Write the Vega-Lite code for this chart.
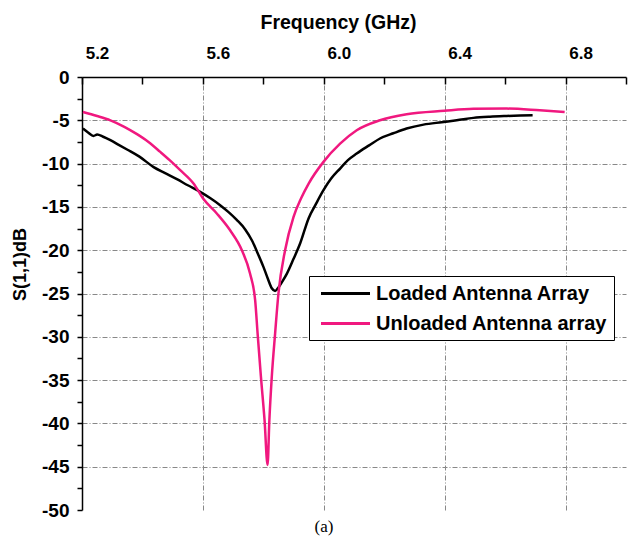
{
  "$schema": "https://vega.github.io/schema/vega-lite/v6.json",
  "width": 544,
  "height": 433,
  "autosize": {"type": "none"},
  "padding": {"left": 82, "top": 77, "right": 8, "bottom": 27},
  "background": "white",
  "config": {
    "view": {"stroke": null},
    "font": "Liberation Sans"
  },
  "title": {
    "text": "(a)",
    "orient": "bottom",
    "font": "Liberation Serif",
    "fontSize": 17,
    "fontWeight": "normal",
    "color": "black",
    "offset": -1,
    "dx": -30
  },
  "data": {
    "values": [
      {"series": "Loaded Antenna Array", "f": 5.203, "db": -5.95},
      {"series": "Loaded Antenna Array", "f": 5.22, "db": -6.4},
      {"series": "Loaded Antenna Array", "f": 5.238, "db": -6.8},
      {"series": "Loaded Antenna Array", "f": 5.25, "db": -6.65},
      {"series": "Loaded Antenna Array", "f": 5.27, "db": -6.9},
      {"series": "Loaded Antenna Array", "f": 5.294, "db": -7.3},
      {"series": "Loaded Antenna Array", "f": 5.32, "db": -7.8},
      {"series": "Loaded Antenna Array", "f": 5.349, "db": -8.37},
      {"series": "Loaded Antenna Array", "f": 5.39, "db": -9.2},
      {"series": "Loaded Antenna Array", "f": 5.437, "db": -10.4},
      {"series": "Loaded Antenna Array", "f": 5.475, "db": -11.1},
      {"series": "Loaded Antenna Array", "f": 5.514, "db": -11.8},
      {"series": "Loaded Antenna Array", "f": 5.55, "db": -12.5},
      {"series": "Loaded Antenna Array", "f": 5.591, "db": -13.26},
      {"series": "Loaded Antenna Array", "f": 5.625, "db": -14.0},
      {"series": "Loaded Antenna Array", "f": 5.657, "db": -14.8},
      {"series": "Loaded Antenna Array", "f": 5.685, "db": -15.6},
      {"series": "Loaded Antenna Array", "f": 5.712, "db": -16.5},
      {"series": "Loaded Antenna Array", "f": 5.74, "db": -17.6},
      {"series": "Loaded Antenna Array", "f": 5.762, "db": -18.85},
      {"series": "Loaded Antenna Array", "f": 5.782, "db": -20.4},
      {"series": "Loaded Antenna Array", "f": 5.8, "db": -21.9},
      {"series": "Loaded Antenna Array", "f": 5.815, "db": -23.3},
      {"series": "Loaded Antenna Array", "f": 5.828, "db": -24.4},
      {"series": "Loaded Antenna Array", "f": 5.839, "db": -24.7},
      {"series": "Loaded Antenna Array", "f": 5.85, "db": -24.3},
      {"series": "Loaded Antenna Array", "f": 5.863, "db": -23.6},
      {"series": "Loaded Antenna Array", "f": 5.878, "db": -22.7},
      {"series": "Loaded Antenna Array", "f": 5.9, "db": -21.0},
      {"series": "Loaded Antenna Array", "f": 5.922, "db": -19.2},
      {"series": "Loaded Antenna Array", "f": 5.95, "db": -16.3},
      {"series": "Loaded Antenna Array", "f": 5.975, "db": -14.6},
      {"series": "Loaded Antenna Array", "f": 5.999, "db": -13.07},
      {"series": "Loaded Antenna Array", "f": 6.025, "db": -11.7},
      {"series": "Loaded Antenna Array", "f": 6.054, "db": -10.57},
      {"series": "Loaded Antenna Array", "f": 6.08, "db": -9.6},
      {"series": "Loaded Antenna Array", "f": 6.109, "db": -8.84},
      {"series": "Loaded Antenna Array", "f": 6.15, "db": -7.9},
      {"series": "Loaded Antenna Array", "f": 6.186, "db": -7.1},
      {"series": "Loaded Antenna Array", "f": 6.23, "db": -6.5},
      {"series": "Loaded Antenna Array", "f": 6.274, "db": -5.95},
      {"series": "Loaded Antenna Array", "f": 6.33, "db": -5.5},
      {"series": "Loaded Antenna Array", "f": 6.39, "db": -5.22},
      {"series": "Loaded Antenna Array", "f": 6.44, "db": -5.0},
      {"series": "Loaded Antenna Array", "f": 6.495, "db": -4.72},
      {"series": "Loaded Antenna Array", "f": 6.55, "db": -4.58},
      {"series": "Loaded Antenna Array", "f": 6.605, "db": -4.5},
      {"series": "Loaded Antenna Array", "f": 6.65, "db": -4.45},
      {"series": "Loaded Antenna Array", "f": 6.691, "db": -4.42},
      {"series": "Unloaded Antenna array", "f": 5.203, "db": -4.04},
      {"series": "Unloaded Antenna array", "f": 5.25, "db": -4.5},
      {"series": "Unloaded Antenna array", "f": 5.294, "db": -5.0},
      {"series": "Unloaded Antenna array", "f": 5.34, "db": -5.75},
      {"series": "Unloaded Antenna array", "f": 5.382, "db": -6.6},
      {"series": "Unloaded Antenna array", "f": 5.42, "db": -7.5},
      {"series": "Unloaded Antenna array", "f": 5.459, "db": -8.65},
      {"series": "Unloaded Antenna array", "f": 5.49, "db": -9.6},
      {"series": "Unloaded Antenna array", "f": 5.525, "db": -10.76},
      {"series": "Unloaded Antenna array", "f": 5.569, "db": -12.3},
      {"series": "Unloaded Antenna array", "f": 5.602, "db": -14.1},
      {"series": "Unloaded Antenna array", "f": 5.646, "db": -15.76},
      {"series": "Unloaded Antenna array", "f": 5.69, "db": -17.7},
      {"series": "Unloaded Antenna array", "f": 5.729, "db": -20.0},
      {"series": "Unloaded Antenna array", "f": 5.756, "db": -22.7},
      {"series": "Unloaded Antenna array", "f": 5.773, "db": -25.8},
      {"series": "Unloaded Antenna array", "f": 5.781, "db": -29.6},
      {"series": "Unloaded Antenna array", "f": 5.792, "db": -34.6},
      {"series": "Unloaded Antenna array", "f": 5.804, "db": -39.6},
      {"series": "Unloaded Antenna array", "f": 5.814, "db": -44.8},
      {"series": "Unloaded Antenna array", "f": 5.82, "db": -39.6},
      {"series": "Unloaded Antenna array", "f": 5.828, "db": -34.6},
      {"series": "Unloaded Antenna array", "f": 5.839, "db": -29.6},
      {"series": "Unloaded Antenna array", "f": 5.85, "db": -25.0},
      {"series": "Unloaded Antenna array", "f": 5.872, "db": -20.0},
      {"series": "Unloaded Antenna array", "f": 5.9, "db": -16.15},
      {"series": "Unloaded Antenna array", "f": 5.925, "db": -14.0},
      {"series": "Unloaded Antenna array", "f": 5.95, "db": -12.3},
      {"series": "Unloaded Antenna array", "f": 5.999, "db": -9.8},
      {"series": "Unloaded Antenna array", "f": 6.054, "db": -7.7},
      {"series": "Unloaded Antenna array", "f": 6.109, "db": -6.15},
      {"series": "Unloaded Antenna array", "f": 6.186, "db": -5.0},
      {"series": "Unloaded Antenna array", "f": 6.274, "db": -4.3},
      {"series": "Unloaded Antenna array", "f": 6.399, "db": -3.9},
      {"series": "Unloaded Antenna array", "f": 6.495, "db": -3.68},
      {"series": "Unloaded Antenna array", "f": 6.605, "db": -3.65},
      {"series": "Unloaded Antenna array", "f": 6.715, "db": -3.85},
      {"series": "Unloaded Antenna array", "f": 6.797, "db": -4.04}
    ]
  },
  "mark": {"type": "line", "strokeWidth": 2.5, "interpolate": "monotone"},
  "encoding": {
    "x": {
      "field": "f",
      "type": "quantitative",
      "scale": {"domain": [5.2, 7.0], "nice": false, "zero": false},
      "axis": {
        "orient": "top",
        "title": "Frequency (GHz)",
        "titleFontSize": 19.5,
        "titleFontWeight": "bold",
        "titleColor": "black",
        "titleX": 256,
        "titlePadding": 12,
        "values": [5.2, 5.4, 5.6, 5.8, 6.0, 6.2, 6.4, 6.6, 6.8, 7.0],
        "labelExpr": "round(datum.value*10)%4==0 ? format(datum.value,'.1f') : ''",
        "labelFontSize": 17,
        "labelFontWeight": "bold",
        "labelColor": "black",
        "labelOffset": 15,
        "labelPadding": 22,
        "labelFlush": false,
        "domainColor": "black",
        "domainWidth": 1.5,
        "tickColor": "black",
        "tickWidth": 1.5,
        "tickSize": -7,
        "grid": true,
        "gridColor": "#888888",
        "gridDash": [5, 2, 1, 2],
        "gridWidth": 1,
        "gridOpacity": {"condition": {"test": "round(datum.value*10)%4==0 && datum.value>5.3", "value": 1}, "value": 0}
      }
    },
    "y": {
      "field": "db",
      "type": "quantitative",
      "scale": {"domain": [-50, 0], "nice": false, "zero": false},
      "axis": {
        "title": "S(1,1)dB",
        "titleFontSize": 18,
        "titleFontWeight": "bold",
        "titleColor": "black",
        "titleY": 187,
        "titlePadding": 12,
        "values": [-50, -47.5, -45, -42.5, -40, -37.5, -35, -32.5, -30, -27.5, -25, -22.5, -20, -17.5, -15, -12.5, -10, -7.5, -5, -2.5, 0],
        "labelExpr": "datum.value%5==0 ? '' + datum.value : ''",
        "labelFontSize": 19,
        "labelFontWeight": "bold",
        "labelColor": "black",
        "labelPadding": 8,
        "labelFlush": false,
        "domainColor": "black",
        "domainWidth": 1.5,
        "tickColor": "black",
        "tickWidth": 1.5,
        "tickSize": 5,
        "grid": true,
        "gridColor": "#888888",
        "gridDash": [5, 2, 1, 2],
        "gridWidth": 1,
        "gridOpacity": {"condition": {"test": "datum.value%5==0 && datum.value>-50 && datum.value<0", "value": 1}, "value": 0}
      }
    },
    "color": {
      "field": "series",
      "type": "nominal",
      "scale": {"domain": ["Loaded Antenna Array", "Unloaded Antenna array"], "range": ["#000000", "#f0187f"]},
      "legend": {
        "title": null,
        "orient": "none",
        "legendX": 227,
        "legendY": 199,
        "direction": "vertical",
        "fillColor": "white",
        "strokeColor": "black",
        "padding": 6,
        "symbolType": "M-2.45,0L2.45,0",
        "symbolSize": 400,
        "symbolStrokeWidth": 3,
        "symbolOffset": 19,
        "labelOffset": 19,
        "labelFontSize": 20,
        "labelFontWeight": "bold",
        "labelColor": "black",
        "labelLimit": 400,
        "rowPadding": 8
      }
    }
  }
}
